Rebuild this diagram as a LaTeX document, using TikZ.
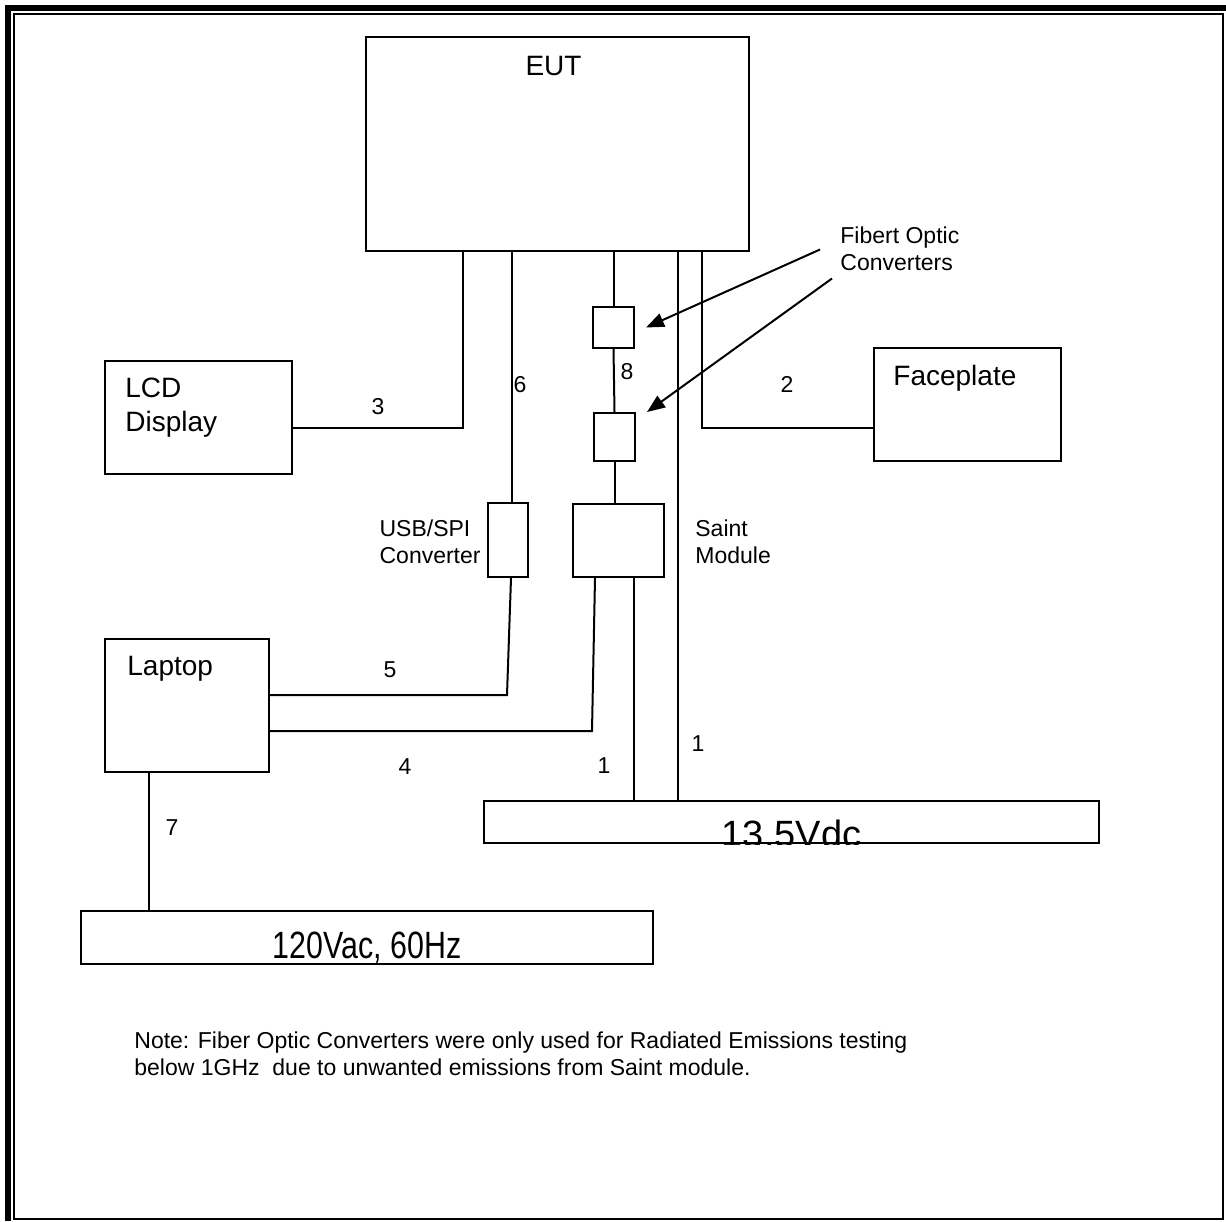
\documentclass[tikz,border=0pt]{standalone}
\usepackage{fontspec}
\setmainfont{Liberation Sans}
\usetikzlibrary{arrows.meta, positioning, calc}
\tikzset{
    unitbox/.style={draw, rectangle, line width=1pt, inner sep=0pt, anchor=north west},
    bigtext/.style={inner sep=0pt, align=left, font=\fontsize{14}{17}\selectfont},
    smalltext/.style={inner sep=0pt, align=left, font=\fontsize{11.5}{13.5}\selectfont},
    supplytext/.style={inner sep=0pt, font=\fontsize{19}{21}\selectfont},
    cablenum/.style={inner sep=0pt, font=\fontsize{11.5}{13.5}\selectfont},
    cable/.style={line width=1pt},
    pointer/.style={line width=1pt, -{Triangle[length=9pt, width=7pt]}}
}

\begin{document}
\begin{tikzpicture}[x=0.5pt, y=-0.5pt]
    \useasboundingbox (0,0) rectangle (1226,1221);

    % Page frame
    \draw[line width=3pt] (8,1221) -- (8,8) -- (1226,8);
    \draw[line width=1pt] (14,14) rectangle (1222.5,1218.5);

    % Equipment boxes
    \node[unitbox, minimum width=191.5pt, minimum height=107pt] (eut) at (365,36) {};
    \node[unitbox, minimum width=93.5pt, minimum height=56.5pt] (lcd) at (104,360) {};
    \node[unitbox, minimum width=93.5pt, minimum height=56.5pt] (face) at (873,347) {};
    \node[unitbox, minimum width=82pt, minimum height=66.5pt] (laptop) at (104,638) {};
    \node[unitbox, minimum width=20.5pt, minimum height=20.5pt] (fc1) at (592,306) {};
    \node[unitbox, minimum width=20.5pt, minimum height=24pt] (fc2) at (593,412) {};
    \node[unitbox, minimum width=20pt, minimum height=37pt] (usb) at (487,502) {};
    \node[unitbox, minimum width=45.5pt, minimum height=36.5pt] (saint) at (572,503) {};
    \node[unitbox, minimum width=307.5pt, minimum height=21pt] (vdc) at (483,800) {};
    \node[unitbox, minimum width=286pt, minimum height=26.5pt] (vac) at (80,910) {};

    % Box texts
    \node[bigtext, below=10pt of eut.north, xshift=-2pt] (euttxt) {EUT};
    \node[bigtext, below right=9pt and 10.5pt of lcd.north west] (lcdtxt) {LCD\\Display};
    \node[bigtext, below right=9pt and 10pt of face.north west] (facetxt) {Faceplate};
    \node[bigtext, below right=9pt and 11.5pt of laptop.north west] (laptxt) {Laptop};
    \node[smalltext, below left=8.75pt and 3pt of usb.north west] (usbtxt) {USB/SPI\\Converter};
    \node[smalltext, below right=8.25pt and 15pt of saint.north east] (sainttxt) {Saint\\Module};
    \node[supplytext, below=11pt of vac.north] (vactxt) {\scalebox{0.8}[1]{120Vac, 60Hz}};
    \begin{scope}
        \clip (vdc.north west) rectangle (vdc.south east);
        \node[supplytext, below=10pt of vdc.north] (vdctxt) {13.5Vdc};
    \end{scope}

    % Cables
    \draw[cable] ($(eut.south west)+(98,0)$) |- ($(lcd.south east)+(0,-47)$);
    \coordinate (c6) at ($(usb.north west)+(25,0)$);
    \draw[cable] (c6) -- (c6 |- eut.south);
    \draw[cable] (fc1.north |- eut.south) -- (fc1.north);
    \draw[cable] (fc1.south) -- (fc2.north);
    \draw[cable] (fc2.south) -- (fc2.south |- saint.north);
    \coordinate (t1) at ($(vdc.north west)+(195,0)$);
    \draw[cable] (t1) -- (t1 |- eut.south);
    \draw[cable] ($(eut.south west)+(337,0)$) |- ($(face.south west)+(0,-34)$);
    \coordinate (t2) at ($(saint.south west)+(62,0)$);
    \draw[cable] (t2) -- (t2 |- vdc.north);
    \draw[cable] ($(saint.south west)+(23,0)$) -- ++(-3,153) -- ($(laptop.south east)+(0,-42)$);
    \draw[cable] ($(usb.south west)+(24,0)$) -- ++(-4,117) -- ($(laptop.south east)+(0,-78)$);
    \coordinate (t7) at ($(laptop.south west)+(45,0)$);
    \draw[cable] (t7) -- (t7 |- vac.north);

    % Cable numbers
    \foreach \num/\px/\py/\tag in {3/378/407/n3, 6/520/385/n6, 8/627/372/n8, 2/787/384/n2,
        5/390/670/n5, 4/405/767/n4, 1/604/766/n1a, 1/698/744/n1b, 7/172/828/n7}
        \node[cablenum] (\tag) at (\px,\py) {\num};

    % Converter callout
    \node[smalltext, anchor=north west] (fibertxt) at (840,226.5) {Fibert Optic\\Converters};
    \draw[pointer] ($(fibertxt.north west)+(-20,23)$) -- ($(fc1.east)+(11,0)$);
    \draw[pointer] ($(fibertxt.north west)+(-8,52)$) -- ($(fc2.north east)+(11,0)$);

    % Note
    \node[smalltext, anchor=north west] (note) at (134,1031) {Note: Fiber Optic Converters were only used for Radiated Emissions testing\\below 1GHz~ due to unwanted emissions from Saint module.};
\end{tikzpicture}
\end{document}
